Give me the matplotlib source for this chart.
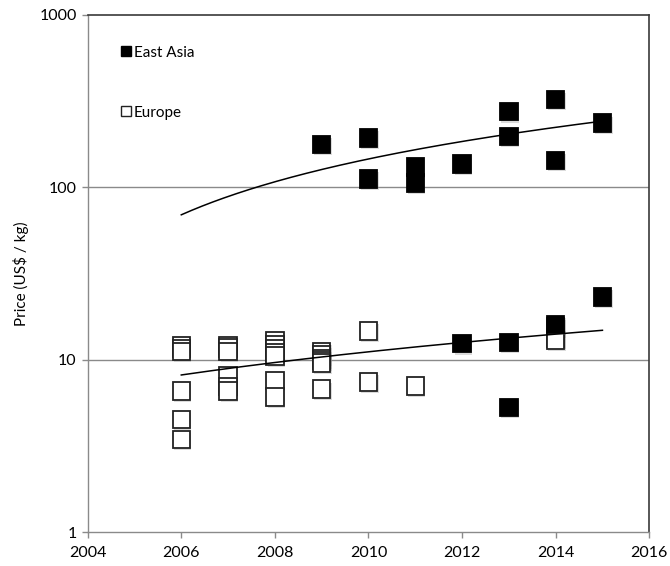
import numpy as np
import matplotlib
matplotlib.use("Agg")
import matplotlib.pyplot as plt
import matplotlib.patheffects as pe
from matplotlib.ticker import FixedLocator, FuncFormatter, NullLocator

plt.rcParams['font.family'] = ['Lato', 'DejaVu Sans']

# Price observations (US$ / kg) by year
east_asia_years = [2009, 2010, 2010, 2011, 2011, 2012, 2013, 2013, 2014, 2014, 2015,
                   2012, 2013, 2013, 2014, 2015]
east_asia_prices = [177, 193, 112, 131, 106, 136, 197, 274, 322, 143, 235,
                    12.4, 12.6, 5.3, 16.0, 23.1]

europe_years = [2006, 2006, 2006, 2006, 2006, 2006,
                2007, 2007, 2007, 2007, 2007, 2007,
                2008, 2008, 2008, 2008, 2008, 2008, 2008,
                2009, 2009, 2009, 2009, 2009, 2009,
                2010, 2010,
                2011,
                2014, 2014, 2014]
europe_prices = [12.0, 11.6, 11.2, 6.6, 4.5, 3.45,
                 12.1, 11.7, 11.2, 8.1, 7.0, 6.6,
                 12.9, 12.2, 11.6, 11.0, 10.5, 7.6, 6.1,
                 11.2, 10.7, 10.2, 9.9, 9.6, 6.75,
                 14.7, 7.45,
                 7.05,
                 15.5, 13.4, 13.0]

# Linear trends are fitted separately to the high- and low-price bands
band_split = 50
trend_span = [2006, 2015]

x_ticks = [2004, 2006, 2008, 2010, 2012, 2014, 2016]
y_ticks = [1, 10, 100, 1000]

fig = plt.figure(figsize=(6.70, 5.66), dpi=100)
ax = fig.add_axes([0.1309, 0.0595, 0.969 - 0.1309, 0.974 - 0.0595])
ax.set_yscale('log')
ax.set_xlim(2004, 2016)
ax.set_ylim(1, 1000)

for y in (10, 100):
    ax.axhline(y, color='#8a8a8a', lw=1.0, zorder=1)

shadow = [pe.SimplePatchShadow(offset=(1.0, -1.5), shadow_rgbFace='#888888', alpha=0.3),
          pe.Normal()]

ax.plot(europe_years, europe_prices, linestyle='none', marker='s', markersize=12.6,
        markerfacecolor='white', markeredgecolor='#222222', markeredgewidth=1.3,
        zorder=3, path_effects=shadow, label='Europe')
ax.plot(east_asia_years, east_asia_prices, linestyle='none', marker='s', markersize=12.6,
        markerfacecolor='black', markeredgecolor='black', markeredgewidth=1.3,
        zorder=4, path_effects=shadow, label='East Asia')

# Trend lines
xs = np.linspace(trend_span[0], trend_span[1], 200)
all_years = np.array(east_asia_years + europe_years, dtype=float)
all_prices = np.array(east_asia_prices + europe_prices, dtype=float)
for mask in (all_prices > band_split, all_prices <= band_split):
    slope, intercept = np.polyfit(all_years[mask], all_prices[mask], 1)
    ax.plot(xs, slope * xs + intercept, color='black', lw=1.1, zorder=5)

ax.xaxis.set_major_locator(FixedLocator(x_ticks))
ax.yaxis.set_major_locator(FixedLocator(y_ticks))
ax.yaxis.set_minor_locator(NullLocator())
ax.yaxis.set_major_formatter(FuncFormatter(lambda v, p: f"{v:g}"))
ax.tick_params(axis='both', which='major', direction='out', length=4, width=1.0,
               color='#8a8a8a', labelsize=11.5, labelcolor='black', pad=4)
ax.tick_params(axis='x', pad=6)

for side in ('left', 'bottom'):
    ax.spines[side].set_color('#8a8a8a')
    ax.spines[side].set_linewidth(1.0)
for side in ('top', 'right'):
    ax.spines[side].set_color('#3a3a3a')
    ax.spines[side].set_linewidth(1.2)

ax.set_ylabel('Price (US$ / kg)', fontsize=11)
ax.yaxis.set_label_coords(-0.105, 0.5)

handles, labels = ax.get_legend_handles_labels()
leg = ax.legend(handles[::-1], labels[::-1], loc='upper left',
                bbox_to_anchor=(0.05, 0.952), frameon=False, fontsize=11,
                markerscale=0.62, handlelength=0.55, handletextpad=0.25,
                labelspacing=3.0, borderaxespad=0)
for h in leg.legend_handles:
    h.set_path_effects([])
    h.set_markeredgewidth(1.0)

fig.savefig('out.png', dpi=100)
